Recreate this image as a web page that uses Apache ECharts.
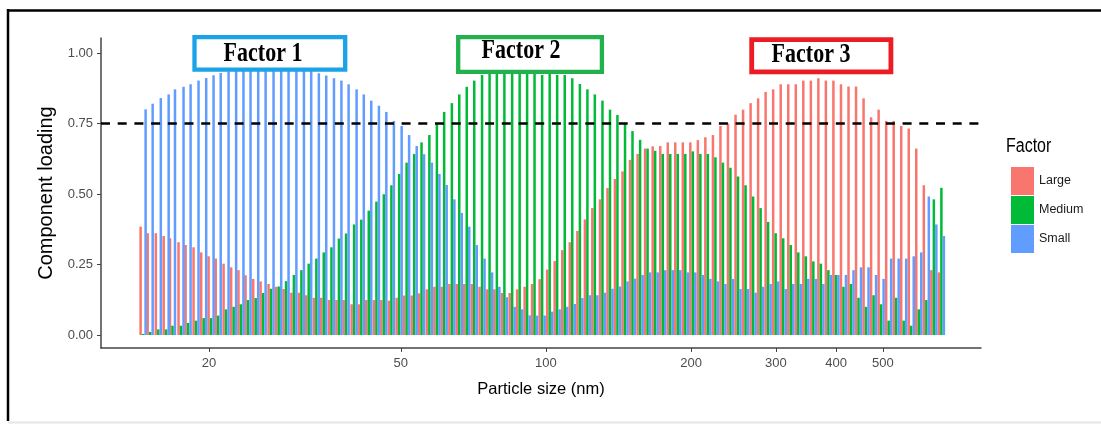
<!DOCTYPE html>
<html>
<head>
<meta charset="utf-8">
<title>Component loading by particle size</title>
<script src="https://cdn.jsdelivr.net/npm/echarts@6/dist/echarts.min.js"></script>
<style>
  html, body { margin: 0; padding: 0; background: #fff; }
  #chart { width: 1101px; height: 424px; }
</style>
</head>
<body>
<div id="chart"></div>
<script>
// particle size bins (nm), 64 channels per decade
var sizes = [
  14.6, 15.1, 15.7, 16.3, 16.8, 17.5, 18.1, 18.8, 19.5, 20.2,
  20.9, 21.7, 22.5, 23.3, 24.1, 25.0, 25.9, 26.9, 27.9, 28.9,
  30.0, 31.1, 32.2, 33.4, 34.6, 35.9, 37.2, 38.5, 40.0, 41.4,
  42.9, 44.5, 46.1, 47.8, 49.6, 51.4, 53.3, 55.2, 57.3, 59.4,
  61.5, 63.8, 66.1, 68.5, 71.0, 73.7, 76.4, 79.1, 82.0, 85.1,
  88.2, 91.4, 94.7, 98.2, 101.8, 105.5, 109.4, 113.4, 117.6, 121.9,
  126.3, 131.0, 135.8, 140.7, 145.9, 151.2, 156.8, 162.5, 168.5, 174.7,
  181.1, 187.7, 194.6, 201.7, 209.1, 216.7, 224.7, 232.9, 241.4, 250.3,
  259.5, 269.0, 278.8, 289.0, 299.6, 310.6, 322.0, 333.8, 346.0, 358.7,
  371.8, 385.4, 399.5, 414.2, 429.4, 445.1, 461.4, 478.3, 495.8, 514.0,
  532.8, 552.3, 572.5, 593.5, 615.3, 637.8, 661.2
];

var large = [
  0.384, 0.361, 0.361, 0.351, 0.343, 0.329, 0.319, 0.311, 0.293, 0.279,
  0.271, 0.253, 0.240, 0.230, 0.212, 0.199, 0.190, 0.181, 0.171, 0.163,
  0.150, 0.150, 0.141, 0.132, 0.132, 0.124, 0.124, 0.124, 0.109, 0.109,
  0.124, 0.124, 0.124, 0.122, 0.132, 0.140, 0.140, 0.148, 0.162, 0.171,
  0.171, 0.181, 0.181, 0.181, 0.181, 0.171, 0.162, 0.162, 0.149, 0.149,
  0.162, 0.171, 0.181, 0.198, 0.232, 0.262, 0.301, 0.329, 0.369, 0.410,
  0.450, 0.481, 0.521, 0.553, 0.580, 0.621, 0.642, 0.661, 0.669, 0.670,
  0.683, 0.683, 0.683, 0.683, 0.691, 0.701, 0.709, 0.741, 0.750, 0.781,
  0.799, 0.822, 0.839, 0.862, 0.871, 0.889, 0.889, 0.889, 0.902, 0.902,
  0.910, 0.902, 0.902, 0.889, 0.881, 0.881, 0.839, 0.772, 0.799, 0.759,
  0.759, 0.741, 0.732, 0.661, 0.531, 0.230, 0.222
];

var medium = [
  0.004, 0.011, 0.020, 0.020, 0.033, 0.033, 0.043, 0.051, 0.060, 0.060,
  0.069, 0.091, 0.100, 0.109, 0.124, 0.131, 0.149, 0.164, 0.172, 0.191,
  0.213, 0.230, 0.253, 0.271, 0.293, 0.311, 0.342, 0.360, 0.392, 0.409,
  0.441, 0.473, 0.499, 0.531, 0.571, 0.611, 0.642, 0.683, 0.709, 0.751,
  0.791, 0.822, 0.853, 0.880, 0.902, 0.922, 0.935, 0.945, 0.950, 0.955,
  0.955, 0.950, 0.945, 0.922, 0.928, 0.922, 0.922, 0.910, 0.890, 0.871,
  0.853, 0.831, 0.799, 0.780, 0.750, 0.723, 0.692, 0.661, 0.653, 0.642,
  0.642, 0.642, 0.642, 0.651, 0.642, 0.642, 0.630, 0.611, 0.593, 0.562,
  0.531, 0.491, 0.450, 0.401, 0.361, 0.343, 0.319, 0.293, 0.279, 0.261,
  0.253, 0.230, 0.213, 0.171, 0.181, 0.132, 0.100, 0.141, 0.109, 0.051,
  0.132, 0.051, 0.033, 0.091, 0.124, 0.481, 0.522
];

var small = [
  0.800, 0.820, 0.840, 0.853, 0.871, 0.880, 0.889, 0.902, 0.911, 0.921,
  0.929, 0.935, 0.940, 0.945, 0.950, 0.950, 0.955, 0.955, 0.955, 0.950,
  0.950, 0.945, 0.940, 0.928, 0.920, 0.910, 0.902, 0.889, 0.871, 0.853,
  0.831, 0.813, 0.791, 0.759, 0.741, 0.709, 0.670, 0.641, 0.611, 0.571,
  0.532, 0.481, 0.433, 0.384, 0.319, 0.271, 0.222, 0.171, 0.134, 0.100,
  0.091, 0.070, 0.069, 0.069, 0.083, 0.091, 0.100, 0.110, 0.131, 0.141,
  0.141, 0.150, 0.164, 0.172, 0.190, 0.200, 0.213, 0.222, 0.222, 0.230,
  0.230, 0.230, 0.222, 0.222, 0.213, 0.199, 0.190, 0.181, 0.199, 0.163,
  0.163, 0.150, 0.171, 0.181, 0.190, 0.163, 0.181, 0.181, 0.199, 0.199,
  0.181, 0.213, 0.213, 0.213, 0.230, 0.240, 0.240, 0.213, 0.199, 0.271,
  0.271, 0.271, 0.279, 0.293, 0.491, 0.392, 0.351
];

var xTickLabels = [20, 50, 100, 200, 300, 400, 500];
var yTickLabels = [0, 0.25, 0.5, 0.75, 1];
var threshold = 0.75;

var FONT = '"Liberation Sans", Arial, sans-serif';

// x axis is drawn in log10(nm)
var toPoints = function (vals) {
  return sizes.map(function (s, i) { return [Math.log10(s), vals[i]]; });
};
var xTicks = xTickLabels.map(function (v) { return Math.log10(v); });

var bar = function (name, vals, color) {
  return {
    name: name,
    type: 'bar',
    data: toPoints(vals),
    barWidth: 2.5,
    barGap: '0%',
    itemStyle: { color: color },
    emphasis: { disabled: true }
  };
};

var box = function (x, y, w, h, color, lw) {
  return {
    type: 'rect', z: 100,
    shape: { x: x, y: y, width: w, height: h },
    style: { fill: '#fff', stroke: color, lineWidth: lw }
  };
};
var boxText = function (txt, cx, cy) {
  return {
    type: 'text', z: 101, x: cx, y: cy, scaleY: 1.2,
    style: {
      text: txt, x: 0, y: 0,
      font: 'bold 22px "Liberation Serif", "Times New Roman", serif',
      fill: '#000',
      align: 'center', verticalAlign: 'middle',
      textAlign: 'center', textVerticalAlign: 'middle'
    }
  };
};

var series = [
  bar('Large', large, '#F8766D'),
  bar('Medium', medium, '#00BA38'),
  bar('Small', small, '#619CFF')
];
series[2].markLine = {
  silent: true,
  symbol: 'none',
  label: { show: false },
  lineStyle: { color: '#000', type: [9, 7.7], width: 2.6 },
  data: [{ yAxis: threshold }]
};

var myChart = echarts.init(document.getElementById('chart'));
var option = {
  animation: false,
  backgroundColor: '#fff',
  textStyle: { fontFamily: FONT },
  grid: { left: 101, right: 120, top: 38, bottom: 76 },
  legend: {
    orient: 'vertical',
    left: 1006,
    top: 162,
    itemWidth: 23,
    itemHeight: 28,
    itemGap: 1,
    icon: 'rect',
    selectedMode: false,
    textStyle: { fontSize: 12.5, color: '#1a1a1a', fontFamily: FONT },
    data: ['Large', 'Medium', 'Small']
  },
  xAxis: {
    type: 'value',
    min: 1.077,
    max: 2.9025,
    name: 'Particle size (nm)',
    nameLocation: 'middle',
    nameGap: 33,
    nameTextStyle: { fontSize: 16.5, color: '#000', fontFamily: FONT },
    axisLine: { onZero: false, lineStyle: { color: '#444', width: 1.5 } },
    axisTick: { length: 4, customValues: xTicks, lineStyle: { color: '#444' } },
    axisLabel: {
      customValues: xTicks,
      formatter: function (v) { return String(Math.round(Math.pow(10, v))); },
      fontSize: 13, color: '#4d4d4d', margin: 9, fontFamily: FONT
    },
    splitLine: { show: false }
  },
  yAxis: {
    type: 'value',
    min: -0.046,
    max: 1.053,
    name: 'Component loading',
    nameLocation: 'middle',
    nameRotate: 90,
    nameGap: 32,
    nameTextStyle: { fontSize: 20, color: '#000', fontFamily: FONT },
    axisLine: { show: true, onZero: false, lineStyle: { color: '#444', width: 1.5 } },
    axisTick: { show: true, length: 4, customValues: yTickLabels, lineStyle: { color: '#444' } },
    axisLabel: {
      customValues: yTickLabels,
      formatter: function (v) { return v.toFixed(2); },
      fontSize: 13, color: '#4d4d4d', margin: 8, fontFamily: FONT
    },
    splitLine: { show: false }
  },
  graphic: [
    { type: 'line', z: 100, shape: { x1: 7, y1: 10.5, x2: 1101, y2: 10.5 }, style: { stroke: '#000', lineWidth: 2.5 } },
    { type: 'line', z: 100, shape: { x1: 8, y1: 9, x2: 8, y2: 421 }, style: { stroke: '#000', lineWidth: 2.5 } },
    { type: 'line', z: 100, shape: { x1: 8, y1: 422.5, x2: 1101, y2: 422.5 }, style: { stroke: '#e6e6e6', lineWidth: 2 } },
    box(194.5, 37.2, 150.7, 32.4, '#1AA3E8', 4.3),
    box(458.2, 37.2, 143.7, 34.7, '#22B14C', 4.3),
    box(751.7, 39.7, 139.2, 32.2, '#ED1C24', 4.8),
    boxText('Factor 1', 263, 53.7),
    boxText('Factor 2', 521, 51.2),
    boxText('Factor 3', 811, 54.7),
    {
      type: 'text', z: 100, x: 1006, y: 156, scaleY: 1.25,
      style: {
        text: 'Factor', x: 0, y: 0, font: '16px ' + FONT, fill: '#000',
        align: 'left', verticalAlign: 'bottom',
        textAlign: 'left', textVerticalAlign: 'bottom'
      }
    }
  ],
  series: series
};
myChart.setOption(option);
window.onresize = myChart.resize;
</script>
</body>
</html>
